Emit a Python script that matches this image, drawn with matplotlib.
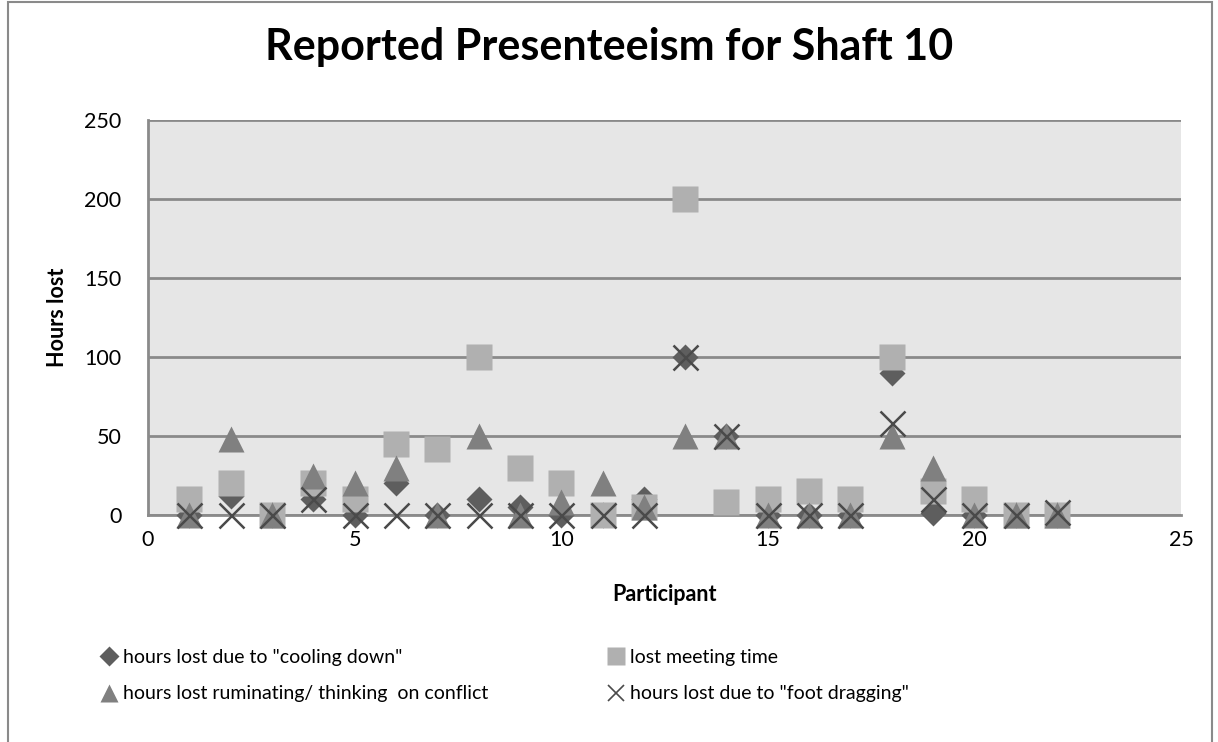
# plot.py — Reported Presenteeism for Shaft 10 (scatter, grayscale)
import matplotlib
matplotlib.use("Agg")
import matplotlib.pyplot as plt
from matplotlib.lines import Line2D

plt.rcParams["font.family"] = ["Lato", "DejaVu Sans"]

participant = list(range(1, 23))
cooling_down = [0, 12, 0, 10, 0, 20, 0, 10, 5, 0, 0, 10, 100, 50, 0, 0, 0, 90, 1, 0, 0, 0]
meeting_time = [10, 20, 0, 20, 10, 45, 42, 100, 30, 20, 0, 5, 200, 8, 10, 15, 10, 100, 15, 10, 0, 0]
ruminating = [0, 48, 0, 25, 20, 30, 0, 50, 0, 8, 20, 5, 50, 50, 0, 0, 0, 50, 30, 0, 0, 0]
foot_dragging = [0, 0, 0, 10, 0, 0, 0, 0, 0, 0, 0, 0, 100, 50, 0, 0, 0, 58, 10, 0, 0, 2]

labels = ['hours lost due to "cooling down"', "lost meeting time",
          "hours lost ruminating/ thinking  on conflict", 'hours lost due to "foot dragging"']

fig = plt.figure(figsize=(12.18, 7.42), dpi=100)
ax = fig.add_axes([148 / 1218, 1 - 515 / 742, (1181 - 148) / 1218, (515 - 120) / 742])
ax.set_facecolor("#e6e6e6")

ax.plot(participant, cooling_down, ls="none", marker="D", ms=13, color="#5e5e5e", mec="none", zorder=3, clip_on=False)
ax.plot(participant, meeting_time, ls="none", marker="s", ms=19, color="#b0b0b0", mec="none", zorder=4, clip_on=False)
ax.plot(participant, ruminating, ls="none", marker="^", ms=19, color="#808080", mec="none", zorder=5, clip_on=False)
ax.plot(participant, foot_dragging, ls="none", marker="x", ms=18, mew=1.8, color="#4a4a4a", zorder=6, clip_on=False)

ax.set_xlim(0, 25)
ax.set_ylim(0, 250)
ax.set_xticks([0, 5, 10, 15, 20, 25])
ax.set_yticks([0, 50, 100, 150, 200, 250])
ax.yaxis.grid(True, color="#8a8a8a", lw=2)
ax.set_axisbelow(True)
ax.tick_params(length=0, labelsize=15.5)
ax.tick_params(axis="x", pad=11)
ax.tick_params(axis="y", pad=19)
for s in ["top", "right"]:
    ax.spines[s].set_visible(False)
for s in ["left", "bottom"]:
    ax.spines[s].set_color("#8a8a8a")
    ax.spines[s].set_linewidth(2)

ax.set_xlabel("Participant", fontsize=15.5, fontweight="bold", labelpad=24)
ax.set_ylabel("Hours lost", fontsize=15.5, fontweight="bold", labelpad=12)
fig.text(0.5, 1 - 47 / 742, "Reported Presenteeism for Shaft 10", ha="center", va="center",
         fontsize=31, fontweight="bold")

handles = [
    Line2D([], [], ls="none", marker="D", ms=10, color="#5e5e5e", mec="none"),
    Line2D([], [], ls="none", marker="^", ms=13, color="#808080", mec="none"),
    Line2D([], [], ls="none", marker="s", ms=13, color="#b0b0b0", mec="none"),
    Line2D([], [], ls="none", marker="x", ms=12, mew=1.2, color="#4a4a4a"),
]
fig.legend(handles, [labels[0], labels[2], labels[1], labels[3]], ncol=2, frameon=False,
           loc="lower left", bbox_to_anchor=(84 / 1218, 22 / 742), fontsize=14,
           handlelength=0.8, handletextpad=0.3, columnspacing=6.2, labelspacing=1.0)

fig.add_artist(plt.Rectangle((8 / 1218, -0.01), (1212 - 8) / 1218, 1.01 - 2 / 742,
                             transform=fig.transFigure, fill=False, ec="#8a8a8a", lw=1.5))

fig.savefig("out.png", dpi=100)
